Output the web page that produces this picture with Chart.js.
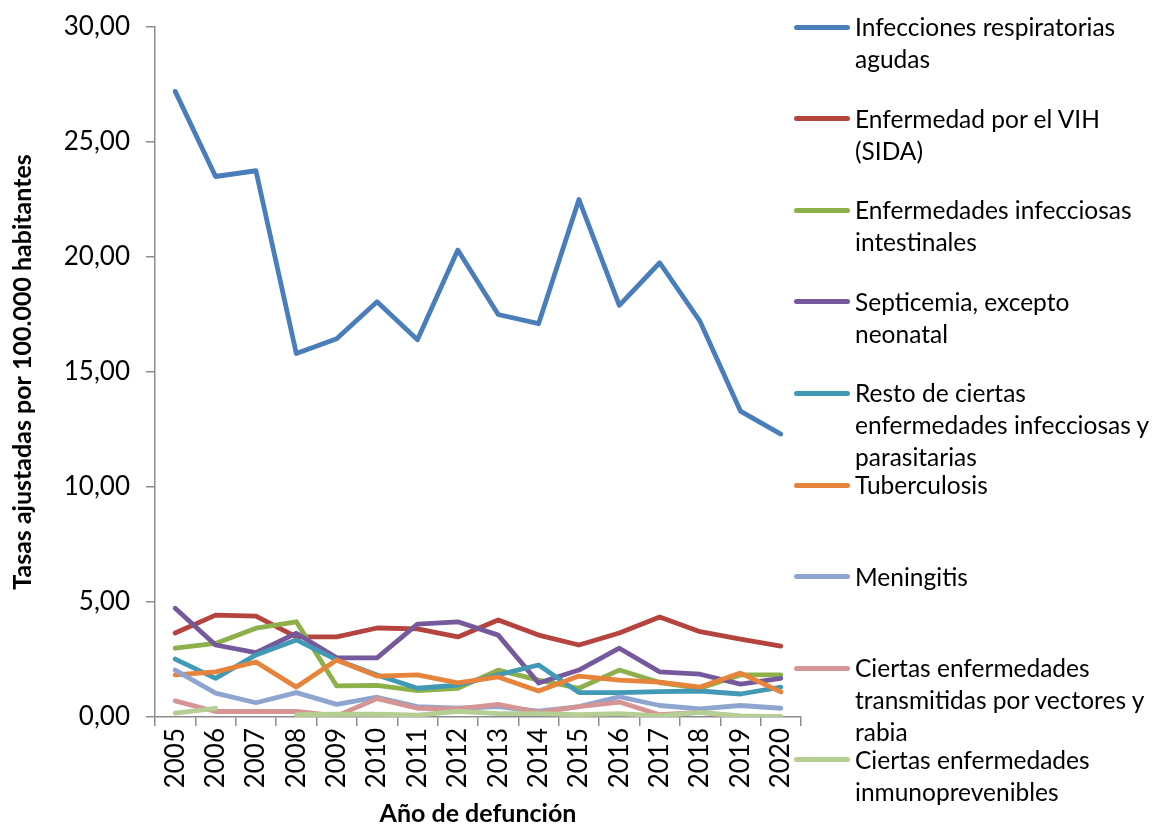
<!DOCTYPE html>
<html>
<head>
<meta charset="utf-8">
<script src="https://cdn.jsdelivr.net/npm/chart.js@4/dist/chart.umd.min.js"></script>
<style>
  html, body { margin: 0; padding: 0; background: #fff; }
  #wrap { position: relative; width: 1156px; height: 829px; }
  #c { position: absolute; left: 0; top: 0; }
  .lg { position: absolute; left: 794px; font-family: Lato, "Open Sans", sans-serif; font-size: 24.5px; color: #000; }
  .lg .sw { position: absolute; left: 0; width: 56px; height: 5px; border-radius: 3px; }
  .lg .tx { position: absolute; left: 61px; white-space: nowrap; line-height: 32px; }
</style>
</head>
<body>
<div id="wrap">
  <canvas id="c" width="1156" height="829"></canvas>
</div>
<script>
// ---- Data ----
const years = ['2005','2006','2007','2008','2009','2010','2011','2012','2013','2014','2015','2016','2017','2018','2019','2020'];

const seriesNames = [
  'Infecciones respiratorias agudas',
  'Enfermedad por el VIH (SIDA)',
  'Enfermedades infecciosas intestinales',
  'Septicemia, excepto neonatal',
  'Resto de ciertas enfermedades infecciosas y parasitarias',
  'Tuberculosis',
  'Meningitis',
  'Ciertas enfermedades transmitidas por vectores y rabia',
  'Ciertas enfermedades inmunoprevenibles'
];

const legendLines = [
  ['Infecciones respiratorias', 'agudas'],
  ['Enfermedad por el VIH', '(SIDA)'],
  ['Enfermedades infecciosas', 'intestinales'],
  ['Septicemia, excepto', 'neonatal'],
  ['Resto de ciertas', 'enfermedades infecciosas y', 'parasitarias'],
  ['Tuberculosis'],
  ['Meningitis'],
  ['Ciertas enfermedades', 'transmitidas por vectores y', 'rabia'],
  ['Ciertas enfermedades', 'inmunoprevenibles']
];

const respiratorias  = [27.2, 23.5, 23.75, 15.8, 16.45, 18.05, 16.4, 20.3, 17.5, 17.1, 22.5, 17.9, 19.75, 17.2, 13.3, 12.3];
const vih            = [3.65, 4.43, 4.39, 3.48, 3.48, 3.87, 3.83, 3.48, 4.22, 3.56, 3.13, 3.65, 4.35, 3.71, 3.39, 3.08];
const intestinales   = [2.99, 3.2, 3.86, 4.14, 1.35, 1.37, 1.15, 1.25, 2.04, 1.6, 1.25, 2.04, 1.5, 1.25, 1.83, 1.83];
const septicemia     = [4.73, 3.13, 2.8, 3.64, 2.57, 2.57, 4.04, 4.14, 3.56, 1.48, 2.04, 2.99, 1.96, 1.86, 1.43, 1.68];
const restoInfecc    = [2.52, 1.68, 2.7, 3.35, 2.48, 1.83, 1.25, 1.39, 1.83, 2.26, 1.06, 1.06, 1.1, 1.13, 1.0, 1.3];
const tuberculosis   = [1.83, 1.96, 2.39, 1.3, 2.48, 1.78, 1.83, 1.48, 1.74, 1.13, 1.78, 1.6, 1.52, 1.3, 1.91, 1.09];
const meningitis     = [2.04, 1.04, 0.62, 1.06, 0.55, 0.86, 0.45, 0.38, 0.45, 0.25, 0.45, 0.88, 0.5, 0.35, 0.5, 0.38];
const vectores       = [0.7, 0.24, 0.24, 0.24, 0.05, 0.8, 0.38, 0.35, 0.55, 0.2, 0.45, 0.65, 0.1, 0.2, 0.02, 0.0];
const inmunoprev     = [0.17, 0.38, null, 0.1, 0.12, 0.12, 0.08, 0.25, 0.15, 0.15, 0.1, 0.15, 0.05, 0.2, 0.05, 0.02];

const yTicksMin = 0, yTicksMax = 30, yTickStep = 5;

const colors = ['#4A7EBB', '#B5443F', '#8DB04B', '#76599C', '#4299B5', '#E5843A', '#8EA6CF', '#D49594', '#B5CE93'];
const allSeries = [respiratorias, vih, intestinales, septicemia, restoInfecc, tuberculosis, meningitis, vectores, inmunoprev];

// ---- Chart ----
const FONT = 'Lato, "Open Sans", sans-serif';
const datasets = allSeries.map((d, i) => ({
  label: seriesNames[i],
  data: d,
  borderColor: colors[i],
  backgroundColor: colors[i],
  borderWidth: 4.8,
  pointRadius: 0,
  pointHoverRadius: 0,
  tension: 0,
  fill: false,
  spanGaps: false,
  borderCapStyle: 'round',
  borderJoinStyle: 'round',
  order: allSeries.length - i
}));

new Chart(document.getElementById('c'), {
  type: 'line',
  data: { labels: years, datasets },
  options: {
    responsive: false,
    animation: false,
    layout: { padding: { left: 0, top: 27, right: 355, bottom: 0 } },
    plugins: { legend: { display: false }, tooltip: { enabled: false } },
    scales: {
      x: {
        offset: true,
        grid: { display: true, offset: true, drawOnChartArea: false, drawTicks: true, tickLength: 9, color: '#8c8c8c', lineWidth: 1.5 },
        border: { display: true, color: '#8c8c8c', width: 1.5 },
        ticks: { color: '#000', font: { family: FONT, size: 26 }, minRotation: 90, maxRotation: 90, padding: 2, autoSkip: false },
        title: { display: true, text: 'Año de defunción', color: '#000', font: { family: FONT, size: 25, weight: 'bold' }, padding: { top: 0, bottom: 0 } },
        afterFit: (s) => { s.height = 112; s.paddingLeft = 0; s.paddingRight = 0; }
      },
      y: {
        min: yTicksMin, max: yTicksMax,
        grid: { display: true, drawOnChartArea: false, drawTicks: true, tickLength: 9, color: '#8c8c8c', lineWidth: 1.5 },
        border: { display: true, color: '#8c8c8c', width: 1.5 },
        ticks: { stepSize: yTickStep, color: '#000', font: { family: FONT, size: 26 }, padding: 16,
                 callback: (v) => v.toFixed(2).replace('.', ',') },
        title: { display: true, text: 'Tasas ajustadas por 100.000 habitantes', color: '#000', font: { family: FONT, size: 25, weight: 'bold' }, padding: { top: 8, bottom: 0 } },
        afterFit: (s) => { s.width = 155; s.paddingTop = 0; s.paddingBottom = 0; }
      }
    }
  }
});

// ---- Legend (HTML) ----
const wrap = document.getElementById('wrap');
legendLines.forEach((lines, i) => {
  const cy = 27 + i * 91.6;
  const item = document.createElement('div');
  item.className = 'lg';
  item.style.top = '0px';
  const sw = document.createElement('div');
  sw.className = 'sw';
  sw.style.background = colors[i];
  sw.style.top = (cy - 2.5) + 'px';
  item.appendChild(sw);
  const tx = document.createElement('div');
  tx.className = 'tx';
  tx.style.top = (cy - 16) + 'px';
  tx.innerHTML = lines.map(l => l.replace(/&/g, '&amp;')).join('<br>');
  item.appendChild(tx);
  wrap.appendChild(item);
});
</script>
</body>
</html>
